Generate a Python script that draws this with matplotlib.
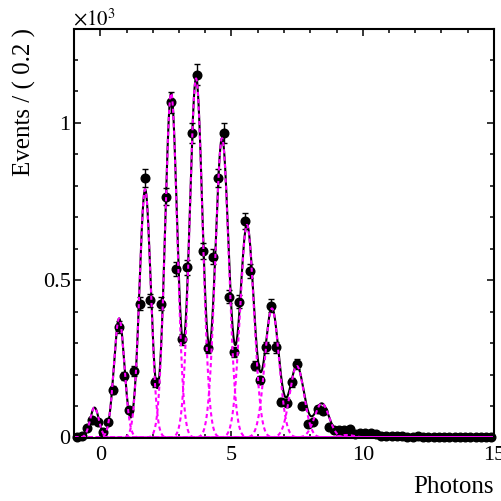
import numpy as np
import matplotlib
matplotlib.use('Agg')
import matplotlib.pyplot as plt
from matplotlib.ticker import MultipleLocator, FixedLocator

plt.rcParams['font.family'] = ['Liberation Serif', 'DejaVu Serif']
plt.rcParams['mathtext.fontset'] = 'stix'

# binned data, bin width 0.2 from -1 to 15
bin_centers = np.arange(80) * 0.2 - 0.9
counts = [2, 5, 30, 54, 50, 18, 49, 151, 350, 195,
          86, 211, 425, 824, 436, 175, 425, 765, 1064, 535,
          312, 540, 966, 1152, 592, 284, 574, 823, 966, 447,
          272, 431, 687, 528, 228, 183, 286, 418, 286, 114,
          111, 175, 233, 100, 43, 50, 90, 85, 34, 24,
          24, 24, 27, 11, 13, 13, 13, 10, 6, 5,
          4, 4, 5, 3, 3, 4, 3, 2, 3, 2,
          2, 3, 2, 2, 2, 3, 2, 2, 2, 2]

# fitted photon peaks (gaussian components)
peak_mean = [-0.22, 0.72, 1.71, 2.70, 3.65, 4.64, 5.59, 6.54, 7.49, 8.44, 9.40]
peak_amp = [95, 378, 788, 1093, 1140, 950, 675, 410, 227, 108, 8]
peak_sigma = [0.165, 0.20, 0.215, 0.23, 0.245, 0.255, 0.262, 0.268, 0.272, 0.276, 0.28]

counts = np.array(counts, dtype=float)
errors = np.sqrt(counts)

xs = np.linspace(-1, 15, 3000)
comps = [a * np.exp(-0.5 * ((xs - m) / s) ** 2) for m, a, s in zip(peak_mean, peak_amp, peak_sigma)]
total = np.sum(comps, axis=0)

fig = plt.figure(figsize=(5.02, 5.01), dpi=100)
ax = fig.add_axes([74 / 502, 1 - 437.5 / 501, 420 / 502, 408.5 / 501])

ax.errorbar(bin_centers, counts / 1000, yerr=errors / 1000, fmt='o', color='black',
            markersize=6.2, elinewidth=1, capsize=2, capthick=1, clip_on=False, zorder=2)
ax.plot(xs, total / 1000, color='black', lw=1.5, zorder=3)
for c in comps:
    ax.plot(xs, c / 1000, color='#ff00ff', lw=1.5, linestyle=(0, (2, 1.5)), zorder=4)

ax.set_xlim(-1, 15)
ax.set_ylim(0, 1.297)
ax.xaxis.set_major_locator(FixedLocator([0, 5, 10, 15]))
ax.xaxis.set_minor_locator(MultipleLocator(1))
ax.yaxis.set_major_locator(FixedLocator([0, 0.5, 1]))
ax.yaxis.set_minor_locator(MultipleLocator(0.1))
ax.set_xticklabels(['0', '5', '10', '15'])
ax.set_yticklabels(['0', '0.5', '1'])

ax.tick_params(which='both', direction='in', top=True, right=True, width=1.1, labelsize=16)
ax.tick_params(which='major', length=5)
ax.tick_params(which='minor', length=2.8)
ax.tick_params(axis='x', which='major', pad=6)
ax.tick_params(axis='y', which='major', pad=2.5)
for sp in ax.spines.values():
    sp.set_linewidth(1.5)
    sp.set_zorder(6)

fig.text(24 / 502, 1 - 28 / 501, 'Events / ( 0.2 )', rotation=90, ha='center', va='top', fontsize=18)
fig.text(494 / 502, 1 - 493 / 501, 'Photons', ha='right', va='baseline', fontsize=18)
fig.text(73 / 502, 1 - 25 / 501, r'$\times10^{3}$', ha='left', va='baseline', fontsize=15)

fig.savefig('out.png', dpi=100)
